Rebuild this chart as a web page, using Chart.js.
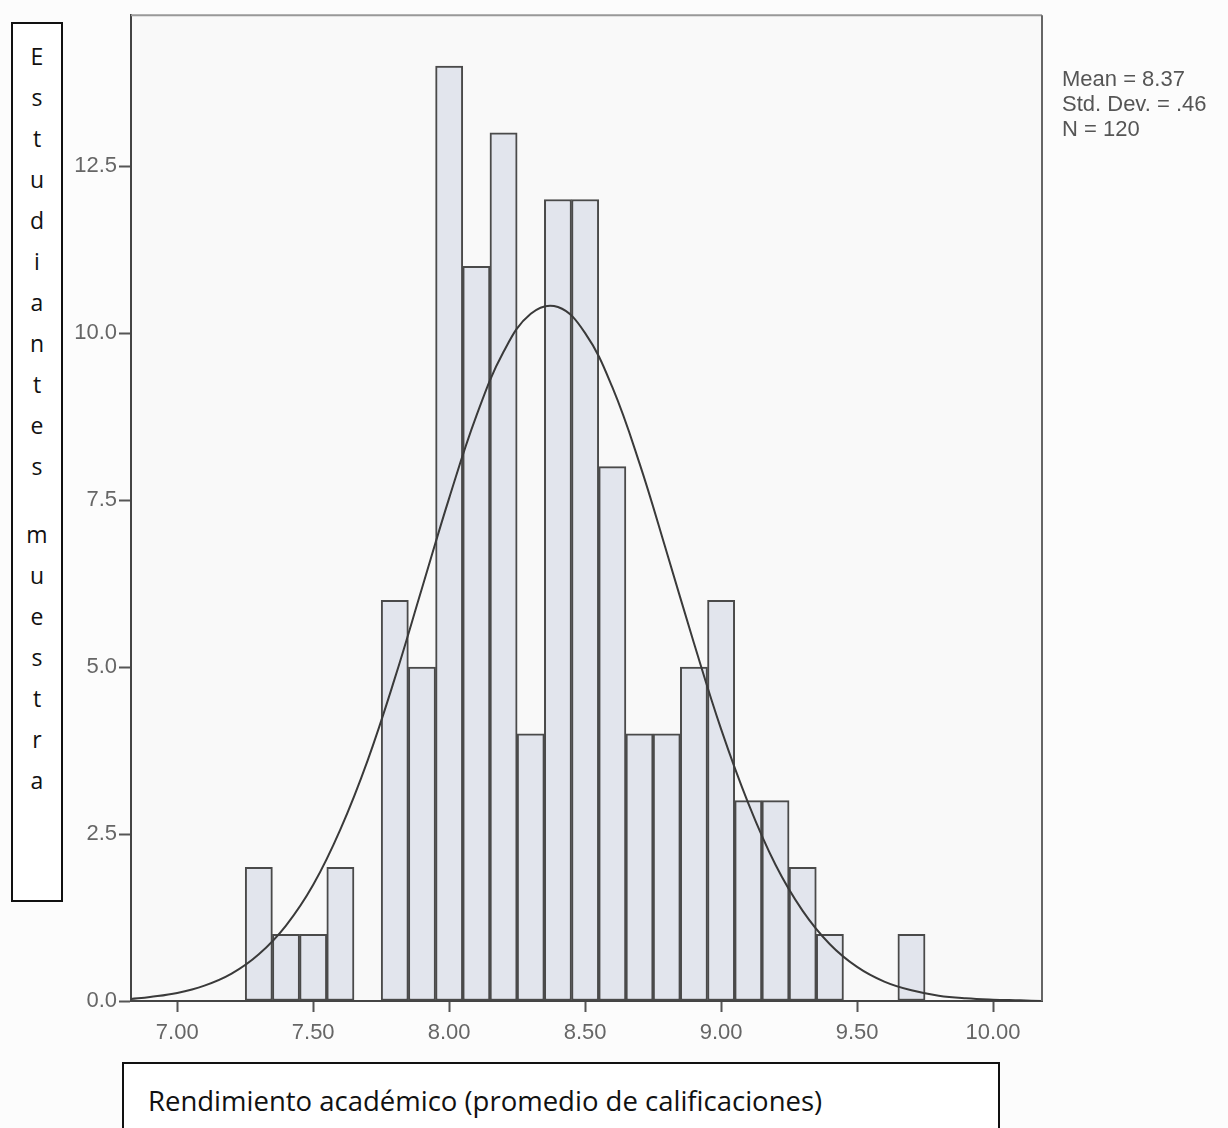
<!DOCTYPE html>
<html>
<head>
<meta charset="utf-8">
<script src="https://cdn.jsdelivr.net/npm/chart.js@4.4.1/dist/chart.umd.min.js"></script>
<style>
  html, body { margin: 0; padding: 0; background: #fcfcfc; }
  #wrap { position: relative; width: 1228px; height: 1128px; overflow: hidden; }
  #chart { position: absolute; left: 0; top: 0; }
  #ylab {
    position: absolute; left: 11px; top: 22px; width: 52px; height: 880px;
    border: 2px solid #111; background: #fff; box-sizing: border-box;
    font-family: "Open Sans", sans-serif; font-size: 23px; color: #111;
    text-align: center; line-height: 41px; padding-top: 12px;
  }
  #ylab .gap { height: 27px; }
  #xlab {
    position: absolute; left: 122px; top: 1062px; width: 878px; height: 80px;
    border: 2px solid #111; background: #fff;
    font-family: "Open Sans", sans-serif; font-size: 27.5px; color: #111;
    padding-left: 24px; padding-top: 18px; box-sizing: border-box;
  }
  #stats {
    position: absolute; left: 1062px; top: 66px;
    font-family: "Liberation Sans", Arial, sans-serif; font-size: 22px;
    color: #555; line-height: 25px;
  }
</style>
</head>
<body>
<div id="wrap">
  <canvas id="chart" width="1228" height="1128"></canvas>
  <div id="ylab"></div>
  <div id="xlab">Rendimiento académico (promedio de calificaciones)</div>
  <div id="stats"></div>
</div>
<script>
// histogram bins (centre of each 0.1 wide bin) and counts
const binCenters = [7.3, 7.4, 7.5, 7.6, 7.7, 7.8, 7.9, 8.0, 8.1, 8.2, 8.3, 8.4, 8.5,
                    8.6, 8.7, 8.8, 8.9, 9.0, 9.1, 9.2, 9.3, 9.4, 9.5, 9.6, 9.7];
const counts = [2, 1, 1, 2, 0, 6, 5, 14, 11, 13, 4, 12, 12,
                8, 4, 4, 5, 6, 3, 3, 2, 1, 0, 0, 1];

// normal curve
const curveX = [6.83, 6.9, 7.0, 7.1, 7.2, 7.3, 7.4, 7.5, 7.6, 7.7, 7.8, 7.9, 8.0,
                8.1, 8.2, 8.3, 8.4, 8.5, 8.6, 8.7, 8.8, 8.9, 9.0, 9.1, 9.2, 9.3,
                9.4, 9.5, 9.6, 9.7, 9.8, 9.9, 10.0, 10.1, 10.18];
const curveY = [0.03, 0.06, 0.12, 0.23, 0.41, 0.70, 1.13, 1.74, 2.57, 3.60, 4.83, 6.18, 7.53,
                8.76, 9.72, 10.29, 10.39, 10.00, 9.19, 8.05, 6.72, 5.36, 4.07, 2.96, 2.04, 1.35,
                0.85, 0.51, 0.29, 0.16, 0.08, 0.04, 0.02, 0.01, 0.0];

const xTicks = [7.0, 7.5, 8.0, 8.5, 9.0, 9.5, 10.0];
const yTicks = [0, 2.5, 5.0, 7.5, 10.0, 12.5];

const statsLines = ["Mean = 8.37", "Std. Dev. = .46", "N = 120"];
const yTitle = "Estudiantes muestra";

document.getElementById("stats").innerHTML = statsLines.join("<br>");

// vertical stacked title, one letter per line
const ylab = document.getElementById("ylab");
let html = "";
for (const ch of yTitle) {
    if (ch === " ") html += '<div class="gap"></div>';
    else html += "<div>" + ch + "</div>";
}
ylab.innerHTML = html;

const barPoints = [];
binCenters.forEach((c, i) => {
    if (counts[i] > 0) barPoints.push({ x: c, y: counts[i] });
});
const curvePoints = curveX.map((x, i) => ({ x: x, y: curveY[i] }));

const plotBox = {
    id: "plotBox",
    beforeDraw(chart) {
        const a = chart.chartArea, ctx = chart.ctx;
        ctx.save();
        ctx.fillStyle = "#f9f9f9";
        ctx.fillRect(a.left, a.top, a.right - a.left, a.bottom - a.top);
        ctx.restore();
    },
    afterDraw(chart) {
        const a = chart.chartArea, ctx = chart.ctx;
        ctx.save();
        ctx.lineWidth = 2;
        ctx.strokeStyle = "#999";
        ctx.beginPath();
        ctx.moveTo(a.left, a.top);
        ctx.lineTo(a.right, a.top);
        ctx.stroke();
        ctx.strokeStyle = "#666";
        ctx.beginPath();
        ctx.moveTo(a.right, a.top);
        ctx.lineTo(a.right, a.bottom);
        ctx.stroke();
        ctx.restore();
    }
};

const tickFont = { family: "'Liberation Sans', Arial, sans-serif", size: 22 };

new Chart(document.getElementById("chart"), {
    type: "bar",
    data: {
        datasets: [
            {
                type: "line",
                data: curvePoints,
                borderColor: "#3a3a3a",
                borderWidth: 2,
                pointRadius: 0,
                tension: 0.4,
                fill: false,
                order: 0
            },
            {
                type: "bar",
                data: barPoints,
                backgroundColor: "#e2e5ed",
                borderColor: "#4a4a4a",
                borderWidth: 2,
                borderSkipped: false,
                barPercentage: 1.0,
                categoryPercentage: 1.0,
                order: 1
            }
        ]
    },
    options: {
        responsive: false,
        animation: false,
        layout: { padding: { top: 15, right: 186, left: 0, bottom: 0 } },
        plugins: {
            legend: { display: false },
            tooltip: { enabled: false }
        },
        scales: {
            x: {
                type: "linear",
                min: 6.83,
                max: 10.18,
                offset: false,
                afterBuildTicks: s => { s.ticks = xTicks.map(v => ({ value: v })); },
                afterFit: s => { s.height = 127; },
                ticks: {
                    color: "#666",
                    font: tickFont,
                    padding: 8,
                    maxRotation: 0,
                    callback: v => Number(v).toFixed(2)
                },
                grid: {
                    drawOnChartArea: false,
                    drawTicks: true,
                    tickLength: 11,
                    tickColor: "#555",
                    tickWidth: 2,
                    offset: false
                },
                border: { display: true, color: "#444", width: 2 }
            },
            y: {
                min: 0,
                max: 14.76,
                afterBuildTicks: s => { s.ticks = yTicks.map(v => ({ value: v })); },
                afterFit: s => { s.width = 131; },
                ticks: {
                    color: "#666",
                    font: tickFont,
                    padding: 2,
                    callback: v => Number(v).toFixed(1)
                },
                grid: {
                    drawOnChartArea: false,
                    drawTicks: true,
                    tickLength: 12,
                    tickColor: "#555",
                    tickWidth: 2
                },
                border: { display: true, color: "#444", width: 2 }
            }
        }
    },
    plugins: [plotBox]
});
</script>
</body>
</html>
